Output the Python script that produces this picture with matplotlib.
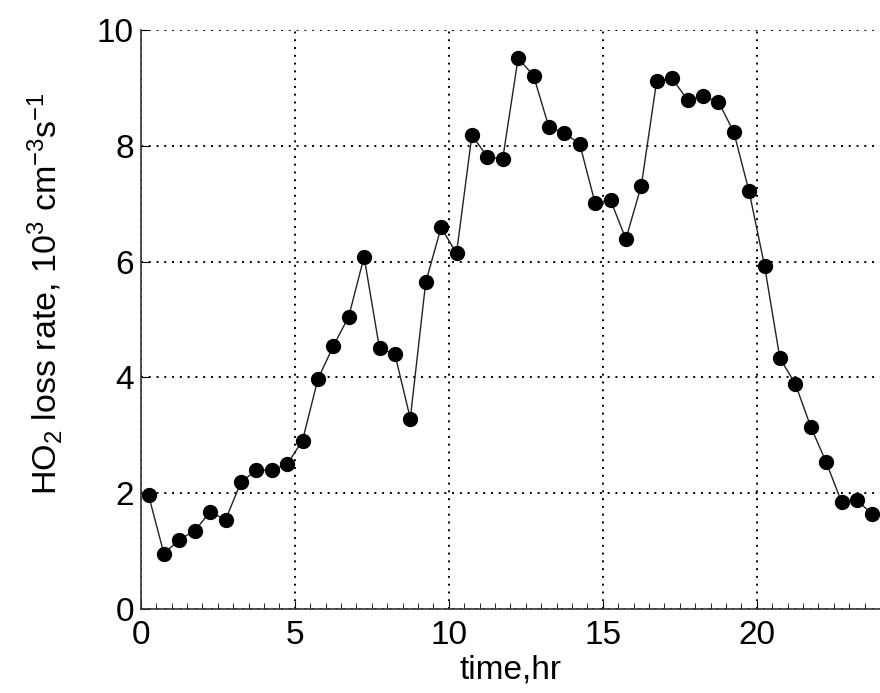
import numpy as np
import matplotlib
matplotlib.use("Agg")
import matplotlib.pyplot as plt
from matplotlib.ticker import MultipleLocator

plt.rcParams["font.family"] = ["Liberation Sans", "DejaVu Sans"]
plt.rcParams["mathtext.fontset"] = "custom"
plt.rcParams["mathtext.rm"] = "Liberation Sans"
plt.rcParams["mathtext.it"] = "Liberation Sans:italic"

# half-hour bins, centred on the quarter hours
hours = np.arange(0.25, 24.0, 0.5)
loss_rate = [1.97, 0.96, 1.20, 1.35, 1.68, 1.54, 2.19, 2.40, 2.40, 2.50,
             2.91, 3.97, 4.54, 5.05, 6.08, 4.50, 4.40, 3.29, 5.64, 6.59,
             6.14, 8.18, 7.81, 7.77, 9.51, 9.21, 8.32, 8.22, 8.03, 7.01,
             7.06, 6.39, 7.31, 9.12, 9.16, 8.79, 8.85, 8.76, 8.24, 7.21,
             5.93, 4.33, 3.89, 3.15, 2.54, 1.85, 1.88, 1.64]

fig = plt.figure(figsize=(8.80, 6.93), dpi=100)
ax = fig.add_axes([0.160, 0.121, 0.840, 0.836])

ax.plot(hours, loss_rate, "-", color="#222222", lw=1.0,
        marker="o", ms=10, mfc="black", mec="black", clip_on=False, zorder=3)

ax.set(xlim=[0, 24], ylim=[0, 10])
ax.xaxis.set_major_locator(MultipleLocator(5))
ax.xaxis.set_minor_locator(MultipleLocator(0.5))
ax.yaxis.set_major_locator(MultipleLocator(2))

ax.grid(True, which="major", linestyle=(0, (1, 3)), color="black", lw=1.4)
ax.set_axisbelow(True)

for side in ["top", "right"]:
    ax.spines[side].set_visible(False)
for side in ["left", "bottom"]:
    ax.spines[side].set_color("#333333")
    ax.spines[side].set_linewidth(1.2)

ax.tick_params(which="both", direction="in", labelsize=24, colors="black")
ax.tick_params(which="major", length=6)
ax.tick_params(which="minor", length=4)
ax.tick_params(axis="y", pad=5)
ax.tick_params(axis="x", pad=8)

ax.set_xlabel("time,hr", fontsize=24, labelpad=2)
ax.set_ylabel("HO$_2$ loss rate, 10$^3$ cm$^{-3}$s$^{-1}$", fontsize=24.5)
ax.yaxis.set_label_coords(-0.102, 0.545)

fig.savefig("out.png", dpi=100)
